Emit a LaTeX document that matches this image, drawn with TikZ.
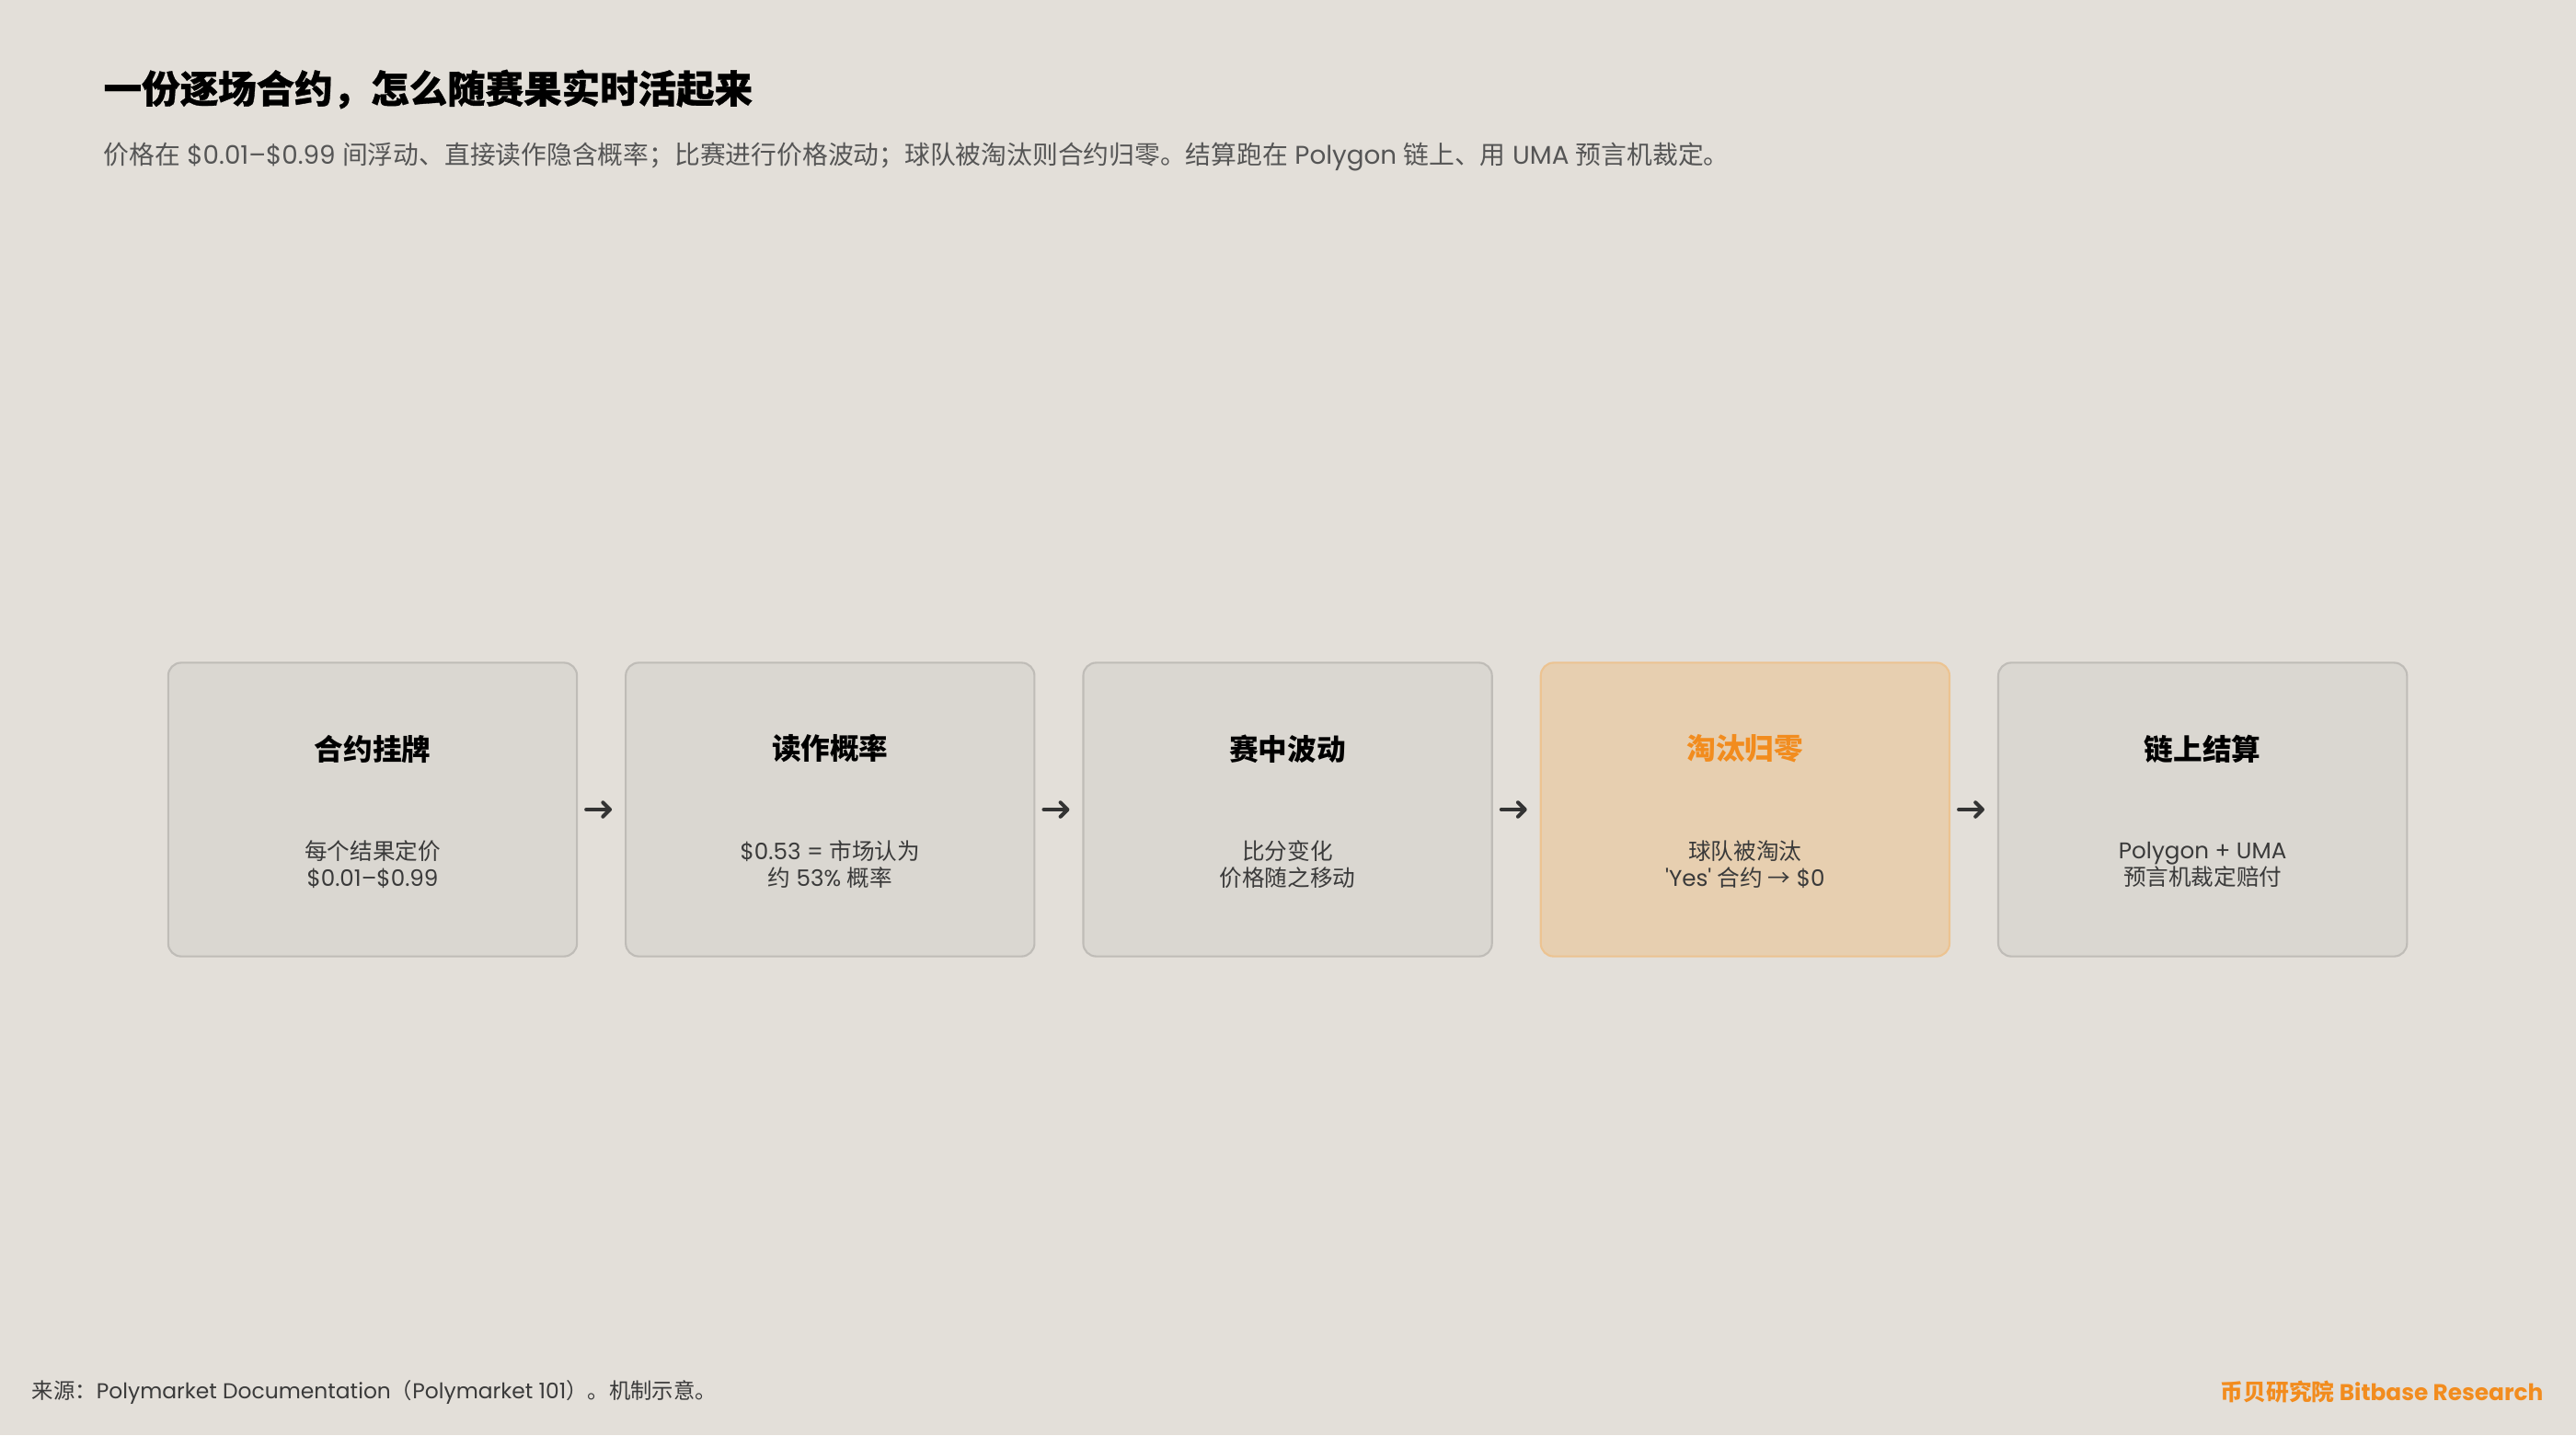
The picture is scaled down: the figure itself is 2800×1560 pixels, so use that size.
\documentclass[tikz,border=0pt]{standalone}
\usepackage{fontspec}
\setmainfont{Poppins}
\newfontfamily\cjk{Noto Sans CJK SC}
\newfontfamily\cjkheavy[FakeBold=0.8]{Noto Sans CJK SC}
\usetikzlibrary{arrows.meta, positioning}

\definecolor{bg}{HTML}{E3DFD9}
\definecolor{boxfill}{HTML}{DAD7D1}
\definecolor{boxline}{HTML}{BFBCB7}
\definecolor{hotfill}{HTML}{E7CFB0}
\definecolor{hotline}{HTML}{ECC391}
\definecolor{hot}{HTML}{F28C1E}
\definecolor{ink}{HTML}{3A3A3A}
\definecolor{subink}{HTML}{555555}
\definecolor{arrowink}{HTML}{333333}

\begin{document}
\begin{tikzpicture}[x=0.01cm, y=-0.01cm, >={Straight Barb[length=2.2pt, width=4.4pt, round]}, node distance=4.97cm,
    stage/.style={draw=boxline, fill=boxfill, line width=0.6pt, rounded corners=4pt, minimum width=4.44cm, minimum height=3.19cm},
    hot stage/.style={stage, draw=hotline, fill=hotfill},
    head/.style={font=\fontsize{9}{10}\selectfont\bfseries\cjk},
    body/.style={font=\fontsize{7}{8.25}\selectfont, text=ink, align=center}]

  \fill[bg] (0,0) rectangle (2800,1560);
  \useasboundingbox (0,0) rectangle (2800,1560);

  \node[anchor=west, inner sep=0pt, font=\fontsize{11.8}{13}\selectfont\bfseries\cjkheavy] (title) at (112,97) {一份逐场合约，怎么随赛果实时活起来};
  \node[anchor=west, inner sep=0pt, font=\fontsize{7.9}{10}\selectfont, text=subink] (sub) at (112,170)
    {{\cjk 价格在} \$0.01–\$0.99 {\cjk 间浮动、直接读作隐含概率；比赛进行价格波动；球队被淘汰则合约归零。结算跑在} Polygon {\cjk 链上、用} UMA {\cjk 预言机裁定。}};

  \node[stage]           (s1)  at (405,880)  {};
  \node[stage]           (s2)  [right of=s1] {};
  \node[stage]           (s3)  [right of=s2] {};
  \node[hot stage]       (s4)  [right of=s3] {};
  \node[stage]           (s5)  [right of=s4] {};

  \node[head]            (t1)  at ([yshift=0.66cm]s1.center) {合约挂牌};
  \node[head]            (t2)  at ([yshift=0.66cm]s2.center) {读作概率};
  \node[head]            (t3)  at ([yshift=0.66cm]s3.center) {赛中波动};
  \node[head, text=hot]  (t4)  at ([yshift=0.66cm]s4.center) {淘汰归零};
  \node[head]            (t5)  at ([yshift=0.66cm]s5.center) {链上结算};

  \node[body] (d1) at ([yshift=-0.6cm]s1.center) {{\cjk 每个结果定价}\\\$0.01–\$0.99};
  \node[body] (d2) at ([yshift=-0.6cm]s2.center) {\$0.53 = {\cjk 市场认为}\\{\cjk 约} 53\% {\cjk 概率}};
  \node[body] (d3) at ([yshift=-0.6cm]s3.center) {{\cjk 比分变化}\\{\cjk 价格随之移动}};
  \node[body] (d4) at ([yshift=-0.6cm]s4.center) {{\cjk 球队被淘汰}\\\textquotesingle Yes\textquotesingle{} {\cjk 合约 →} \$0};
  \node[body] (d5) at ([yshift=-0.6cm]s5.center) {Polygon + UMA\\{\cjk 预言机裁定赔付}};

  \path[->, draw=arrowink, line width=1.15pt, line cap=round, shorten <=0.09cm, shorten >=0.14cm]
        (s1) edge (s2)
        (s2) edge (s3)
        (s3) edge (s4)
        (s4) edge (s5)
        ;

  \node[anchor=west, inner sep=0pt, font=\fontsize{6.65}{8}\selectfont, text=ink] (src) at (34,1513)
    {{\cjk 来源：}Polymarket Documentation{\cjk （}Polymarket 101{\cjk ）。机制示意。}};
  \node[anchor=east, inner sep=0pt, font=\fontsize{7.05}{8}\selectfont\bfseries, text=hot] (brand) at (2765,1513)
    {{\cjk 币贝研究院} Bitbase Research};
\end{tikzpicture}
\end{document}
